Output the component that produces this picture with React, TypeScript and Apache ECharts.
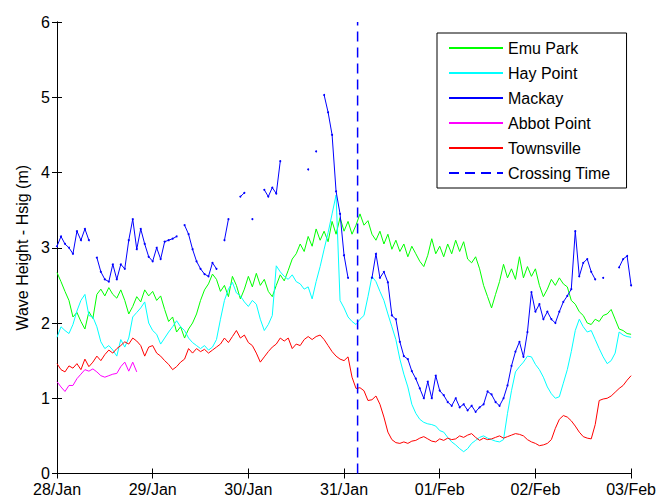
import React, { useEffect, useRef } from "react";
import * as echarts from "echarts";

const hours = [
  0, 1, 2, 3, 4, 5, 6, 7, 8, 9, 10, 11, 12, 13, 14, 15, 16, 17, 18, 19, 20, 21, 22, 23, 24,
  25, 26, 27, 28, 29, 30, 31, 32, 33, 34, 35, 36, 37, 38, 39, 40, 41, 42, 43, 44, 45, 46, 47, 48,
  49, 50, 51, 52, 53, 54, 55, 56, 57, 58, 59, 60, 61, 62, 63, 64, 65, 66, 67, 68, 69, 70, 71, 72,
  73, 74, 75, 76, 77, 78, 79, 80, 81, 82, 83, 84, 85, 86, 87, 88, 89, 90, 91, 92, 93, 94, 95, 96,
  97, 98, 99, 100, 101, 102, 103, 104, 105, 106, 107, 108, 109, 110, 111, 112, 113, 114, 115, 116, 117, 118, 119, 120,
  121, 122, 123, 124, 125, 126, 127, 128, 129, 130, 131, 132, 133, 134, 135, 136, 137, 138, 139, 140, 141, 142, 143, 144,
];

const tickLabels = ["28/Jan", "29/Jan", "30/Jan", "31/Jan", "01/Feb", "02/Feb", "03/Feb"];

const emuPark = [
  2.67, 2.55, 2.42, 2.3, 2.08, 2.14, 2.02, 1.92, 2.15, 2.06,
  2.38, 2.45, 2.36, 2.47, 2.38, 2.33, 2.44, 2.3, 2.12, 2.22,
  2.35, 2.28, 2.44, 2.36, 2.42, 2.3, 2.36, 2.18, 2.02, 2.08,
  1.88, 1.95, 1.8, 1.92, 2.0, 2.12, 2.3, 2.44, 2.52, 2.65,
  2.58, 2.42, 2.5, 2.35, 2.62, 2.5, 2.32, 2.45, 2.62, 2.48,
  2.66, 2.5, 2.58, 2.42, 2.35, 2.5, 2.64, 2.56, 2.7, 2.85,
  2.92, 3.05, 2.95, 3.15, 3.02, 3.25, 3.1, 3.22, 3.08, 3.35,
  3.18, 3.4, 3.22, 3.35, 3.18, 3.3, 3.45, 3.3, 3.36, 3.18,
  3.1, 3.22, 3.05, 3.18, 2.98, 3.1, 2.95, 3.05, 2.88, 3.02,
  2.92, 2.82, 2.75, 2.9, 3.12, 2.92, 3.02, 2.88, 3.05, 2.92,
  3.1, 2.95, 3.08, 2.85, 2.8, 2.88, 2.72, 2.5, 2.35, 2.2,
  2.38, 2.55, 2.78, 2.6, 2.72, 2.58, 2.88, 2.6, 2.75, 2.62,
  2.72, 2.5, 2.35, 2.45, 2.58, 2.5, 2.6, 2.52, 2.48, 2.3,
  2.25, 2.15, 2.1, 2.0, 1.98, 2.05, 2.02, 2.1, 2.12, 2.18,
  2.05, 1.92, 1.9, 1.86, 1.85,
];

const hayPoint = [
  1.81, 1.95, 1.9, 1.86, 1.98, 2.16, 2.3, 2.38, 2.1, 2.08,
  1.95, 1.75, 1.66, 1.7, 1.64, 1.56, 1.78, 1.68, 1.8, 2.08,
  2.14, 2.2, 2.28, 2.0, 1.9, 1.85, 1.72, 1.8, 1.88, 1.95,
  2.03, 1.95, 1.9, 1.8, 1.74, 1.7, 1.66, 1.7, 1.64, 1.68,
  1.78, 2.05, 2.3, 2.45, 2.54, 2.4, 2.36, 2.28, 2.22, 2.3,
  2.25, 2.05, 1.9, 1.98, 2.1, 2.76, 2.68, 2.62, 2.58, 2.64,
  2.55, 2.52, 2.45, 2.48, 2.32, 2.55, 2.75, 2.98, 3.2, 3.45,
  3.7, 2.3, 2.2, 2.08, 2.02, 1.98, 2.05, 2.1, 2.35, 2.62,
  2.55, 2.42, 2.3, 2.12, 1.95, 1.78, 1.52, 1.32, 1.15, 0.92,
  0.8, 0.72, 0.68, 0.66, 0.65, 0.63, 0.57, 0.55, 0.48, 0.42,
  0.38, 0.33, 0.29, 0.33, 0.4, 0.44, 0.48, 0.5, 0.47, 0.45,
  0.43, 0.42, 0.45, 0.8, 1.1, 1.35, 1.42, 1.48, 1.56, 1.55,
  1.45, 1.38, 1.28, 1.15, 1.06, 1.0, 1.02, 1.2, 1.38, 1.62,
  1.9, 2.05, 1.95, 1.88, 1.9, 1.78, 1.66, 1.55, 1.46, 1.5,
  1.6, 1.88, 1.84, 1.82, 1.81,
];

const mackay = [
  3.02, 3.15, 3.05, 3.0, 2.92, 3.22, 3.1, 3.25, 3.1, null,
  2.87, 2.68, 2.58, 2.55, 2.78, 2.58, 2.78, 2.72, 3.1, 3.38,
  2.98, 3.25, 3.05, 2.88, 2.82, 3.0, 2.85, 3.08, 3.1, 3.12,
  3.15, null, 3.3, 3.18, 2.98, 2.82, 2.72, 2.65, 2.62, 2.8,
  2.72, null, 3.1, 3.38, null, null, 3.68, 3.73, null, 3.38,
  null, null, 3.77, 3.68, 3.8, 3.72, 4.15, null, null, null,
  null, null, null, 4.04, null, 4.28, null, 5.03, 4.8, 4.5,
  3.75, 3.45, 2.9, 2.6, null, null, null, null, null, 2.6,
  2.92, 2.6, 2.68, 2.54, 2.1, 2.05, 1.75, 1.56, 1.52, 1.36,
  1.26, 1.13, 1.0, 1.22, 1.0, 1.3, 1.1, 1.04, 0.95, 0.9,
  1.0, 0.88, 0.92, 0.84, 0.9, 0.82, 0.88, 0.92, 1.09, 1.05,
  0.95, 0.9, 1.0, 1.17, 1.43, 1.62, 1.75, 1.55, 1.88, 2.41,
  2.15, 2.25, 2.05, 2.15, 2.05, 2.0, 2.15, 2.28, 2.36, 2.45,
  3.22, 2.62, 2.8, 2.85, 2.68, 2.58, null, 2.6, null, null,
  null, 2.74, 2.85, 2.89, 2.5,
];

const abbotPoint = [
  1.22, 1.15, 1.09, 1.17, 1.17, 1.26, 1.32, 1.38, 1.36, 1.39,
  1.35, 1.3, 1.28, 1.3, 1.32, 1.33, 1.42, 1.48, 1.36, 1.48,
  1.35,
];

const townsville = [
  1.46, 1.38, 1.35, 1.43, 1.4, 1.46, 1.38, 1.52, 1.42, 1.48,
  1.56, 1.5, 1.58, 1.64, 1.6, 1.66, 1.7, 1.75, 1.72, 1.8,
  1.76, 1.7, 1.56, 1.68, 1.7, 1.6, 1.56, 1.5, 1.45, 1.38,
  1.42, 1.48, 1.52, 1.66, 1.6, 1.66, 1.62, 1.65, 1.6, 1.64,
  1.68, 1.72, 1.8, 1.74, 1.82, 1.9, 1.8, 1.84, 1.74, 1.7,
  1.6, 1.48, 1.55, 1.62, 1.68, 1.72, 1.8, 1.76, 1.8, 1.66,
  1.72, 1.7, 1.78, 1.82, 1.78, 1.82, 1.84, 1.78, 1.7, 1.62,
  1.56, 1.52, 1.5, 1.55, 1.28, 1.13, 1.14, 1.1, 0.97, 0.98,
  1.03, 0.92, 0.75, 0.55, 0.45, 0.41, 0.4, 0.42, 0.4, 0.43,
  0.44, 0.47, 0.49, 0.46, 0.43, 0.42, 0.46, 0.44, 0.47, 0.45,
  0.46, 0.5, 0.48, 0.51, 0.53, 0.48, 0.44, 0.47, 0.45, 0.46,
  0.48, 0.5, 0.47, 0.49, 0.51, 0.53, 0.52, 0.5, 0.45, 0.42,
  0.4, 0.37, 0.38, 0.4, 0.45, 0.6, 0.72, 0.77, 0.75, 0.7,
  0.63, 0.55, 0.49, 0.47, 0.46, 0.65, 0.97, 0.99, 1.0, 1.03,
  1.08, 1.13, 1.17, 1.24, 1.3,
];

const crossingHour = 75.4;
const crossingRange = [0, 6];

const zip = (vals: (number | null)[]) => vals.map((v, i) => [hours[i], v]);

export default function App() {
  const ref = useRef<HTMLDivElement>(null);
  useEffect(() => {
    const chart = echarts.init(ref.current as HTMLDivElement, null, { renderer: "svg" });
    const font = "'Liberation Sans', Arial, Helvetica, sans-serif";
    const axisLine = { show: true, lineStyle: { color: "#000", width: 1 } };
    const axisTick = { show: true, inside: true, length: 5, lineStyle: { color: "#000", width: 1 } };
    const mk = (name: string, color: string, vals: (number | null)[], extra: any = {}) => ({
      name,
      type: "line",
      data: zip(vals),
      showSymbol: false,
      symbol: "none",
      connectNulls: false,
      lineStyle: { color, width: 1 },
      itemStyle: { color },
      emphasis: { disabled: true },
      ...extra,
    });
    chart.setOption({
      animation: false,
      backgroundColor: "#fff",
      grid: { left: 57, right: 27, top: 22, bottom: 22, containLabel: false },
      legend: {
        orient: "vertical",
        left: 437,
        top: 33,
        padding: [7, 16, 7, 11],
        itemWidth: 54,
        itemHeight: 14,
        itemGap: 9,
        borderColor: "#000",
        borderWidth: 1,
        backgroundColor: "#fff",
        itemStyle: { opacity: 0 },
        textStyle: { color: "#000", fontSize: 16, fontFamily: font },
        selectedMode: false,
        data: ["Emu Park", "Hay Point", "Mackay", "Abbot Point", "Townsville", "Crossing Time"],
      },
      xAxis: [
        {
          type: "value",
          min: 0,
          max: 144,
          interval: 24,
          position: "bottom",
          axisLine,
          axisTick,
          splitLine: { show: false },
          axisLabel: {
            color: "#000",
            fontSize: 16,
            fontFamily: font,
            margin: 8,
            lineHeight: 15,
            formatter: (v: number) => tickLabels[Math.round(v / 24)] ?? "",
          },
        },
        {
          type: "value",
          min: 0,
          max: 144,
          interval: 24,
          position: "top",
          axisLine,
          axisTick,
          splitLine: { show: false },
          axisLabel: { show: false },
        },
      ],
      yAxis: [
        {
          type: "value",
          min: 0,
          max: 6,
          interval: 1,
          position: "left",
          name: "Wave Height - Hsig (m)",
          nameLocation: "middle",
          nameGap: 26,
          nameTextStyle: { color: "#000", fontSize: 16, fontFamily: font },
          axisLine,
          axisTick,
          splitLine: { show: false },
          axisLabel: { color: "#000", fontSize: 16, fontFamily: font, margin: 7, lineHeight: 12 },
        },
        {
          type: "value",
          min: 0,
          max: 6,
          interval: 1,
          position: "right",
          axisLine,
          axisTick,
          splitLine: { show: false },
          axisLabel: { show: false },
        },
      ],
      series: [
        mk("Emu Park", "#00ff00", emuPark),
        mk("Hay Point", "#00ffff", hayPoint),
        mk("Mackay", "#0000ff", mackay, { showSymbol: true, symbol: "circle", symbolSize: 2 }),
        mk("Abbot Point", "#ff00ff", abbotPoint),
        mk("Townsville", "#ff0000", townsville),
        {
          name: "Crossing Time",
          type: "line",
          data: crossingRange.map((y) => [crossingHour, y]),
          showSymbol: false,
          symbol: "none",
          lineStyle: { color: "#0000ff", width: 1.5, type: [10, 6] },
          itemStyle: { color: "#0000ff" },
          emphasis: { disabled: true },
        },
      ],
    });
    return () => chart.dispose();
  }, []);
  return (
    <div
      ref={ref}
      style={{ position: "fixed", left: 0, top: 0, width: 659, height: 497, background: "#fff" }}
    />
  );
}
